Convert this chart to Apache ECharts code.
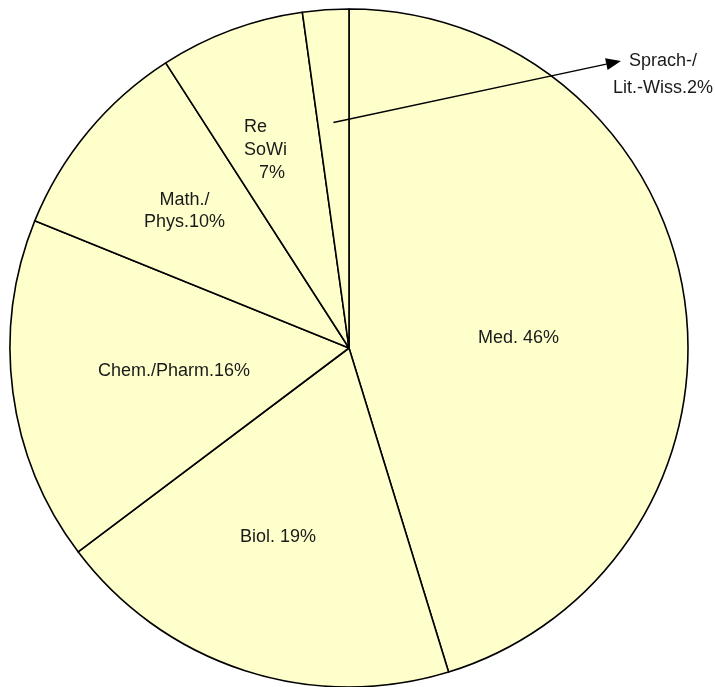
<!DOCTYPE html>
<html>
<head>
<meta charset="utf-8">
<script src="https://cdn.jsdelivr.net/npm/echarts@6/dist/echarts.min.js"></script>
<style>
html,body{margin:0;padding:0;background:#fff;}
#chart{width:715px;height:687px;}
</style>
</head>
<body>
<div id="chart"></div>
<script>
// Data
const categories = ['Med.', 'Biol.', 'Chem./Pharm.', 'Math./Phys.', 'ReSoWi', 'Sprach-/Lit.-Wiss.'];
const values = [45.3, 19.5, 16.4, 9.8, 6.9, 2.2];
const labelTexts = ['Med. 46%', 'Biol. 19%', 'Chem./Pharm.16%', 'Math./\nPhys.10%', 'Re\nSoWi\n   7%', 'Sprach-/\nLit.-Wiss.2%'];

// Layout
const CX = 349, CY = 348, R = 339;
const labelPos = [[518.5, 338], [278, 537], [174, 371], [184.5, 211.5], [244, 150.5], [663, 75]];
const labelAlign = ['center', 'center', 'center', 'center', 'left', 'center'];
const lineHeights = [22, 22, 22, 22, 23, 27];
const arrowTip = [621, 61];

const chart = echarts.init(document.getElementById('chart'));

const data = categories.map((c, i) => ({
  name: c,
  value: values[i],
  label: { formatter: labelTexts[i], lineHeight: lineHeights[i], align: labelAlign[i] }
}));

// Arrow start from the Sprach slice geometry (mid-angle, 2/3 radius)
const total = values.reduce((a, b) => a + b, 0);
const lastIdx = values.length - 1;
const before = values.slice(0, lastIdx).reduce((a, b) => a + b, 0);
const midFrac = (before + values[lastIdx] / 2) / total;
const theta = midFrac * 2 * Math.PI;
const start = [CX + 0.667 * R * Math.sin(theta), CY - 0.667 * R * Math.cos(theta)];
const dx = arrowTip[0] - start[0], dy = arrowTip[1] - start[1];
const len = Math.sqrt(dx * dx + dy * dy);
const ux = dx / len, uy = dy / len;
const headLen = 15, headHalf = 6;
const base = [arrowTip[0] - ux * headLen, arrowTip[1] - uy * headLen];
const p1 = [base[0] - uy * headHalf, base[1] + ux * headHalf];
const p2 = [base[0] + uy * headHalf, base[1] - ux * headHalf];

chart.setOption({
  backgroundColor: '#ffffff',
  animation: false,
  series: [{
    type: 'pie',
    center: [CX, CY],
    radius: [0, R],
    startAngle: 90,
    clockwise: true,
    silent: true,
    data: data,
    itemStyle: { color: '#FFFFCC', borderColor: '#000000', borderWidth: 1.6 },
    label: {
      show: true,
      position: 'inside',
      color: '#1a1a1a',
      fontSize: 18,
      fontFamily: 'Arial, "Liberation Sans", sans-serif'
    },
    labelLine: { show: false },
    labelLayout: function (params) {
      const i = params.dataIndex;
      return { x: labelPos[i][0], y: labelPos[i][1], align: labelAlign[i], verticalAlign: 'middle' };
    }
  }],
  graphic: [
    { type: 'line', z: 100, shape: { x1: start[0], y1: start[1], x2: base[0], y2: base[1] }, style: { stroke: '#000', lineWidth: 1.5 } },
    { type: 'polygon', z: 100, shape: { points: [arrowTip, p1, p2] }, style: { fill: '#000' } }
  ]
});
</script>
</body>
</html>
